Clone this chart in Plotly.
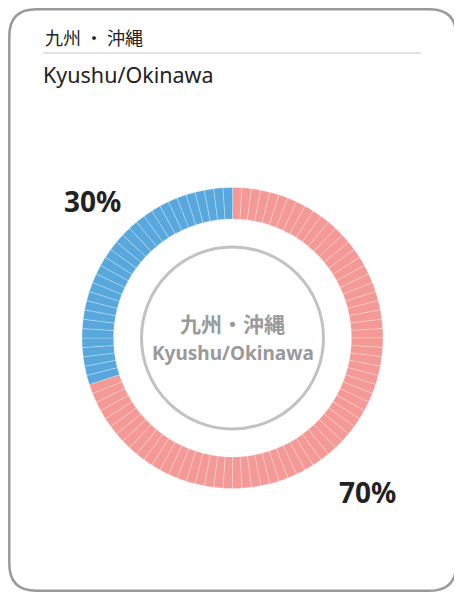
import plotly.graph_objects as go

# ---- data ----
region_jp = "九州・沖縄"
region_en = "Kyushu/Okinawa"
categories = ["blue", "red"]
shares = [30, 70]            # percent (blue runs counter-clockwise from 12 o'clock)
share_labels = ["30%", "70%"]
colors = ["#58a8de", "#f59996"]

W, H = 462, 597
OFF = 8  # page body margin: figure sits 8px from the window corner

# expand shares into 1% unit slices (the ring is drawn as 100 thin segments);
# drawn clockwise from 12 o'clock, so the order is reversed
unit_vals, unit_cols = [], []
for s, c in reversed(list(zip(shares, colors))):
    unit_vals += [1] * s
    unit_cols += [c] * s

cx, cy, R = 232.5, 338, 150.5   # window pixel coordinates

fig = go.Figure()
fig.add_trace(go.Pie(
    values=unit_vals,
    sort=False,
    direction="clockwise",
    rotation=0,
    hole=0.79,
    marker=dict(colors=unit_cols, line=dict(color="rgba(255,255,255,0.38)", width=0.7)),
    textinfo="none",
    hoverinfo="skip",
    showlegend=False,
    domain=dict(x=[(cx - OFF - R) / W, (cx - OFF + R) / W],
                y=[(H - (cy - OFF) - R) / H, (H - (cy - OFF) + R) / H]),
))

fig.update_layout(
    width=W, height=H,
    margin=dict(l=0, r=0, t=0, b=0),
    paper_bgcolor="white", plot_bgcolor="rgba(0,0,0,0)",
    xaxis=dict(range=[OFF, OFF + W], visible=False, fixedrange=True),
    yaxis=dict(range=[OFF + H, OFF], visible=False, fixedrange=True),
    showlegend=False,
)

r = 27
x0, x1, y0, y1 = 9.3, 456.3, 9.3, 590.8
path = (f"M {x0+r},{y0} L {x1-r},{y0} Q {x1},{y0} {x1},{y0+r} L {x1},{y1-r} "
        f"Q {x1},{y1} {x1-r},{y1} L {x0+r},{y1} Q {x0},{y1} {x0},{y1-r} "
        f"L {x0},{y0+r} Q {x0},{y0} {x0+r},{y0} Z")
fig.add_shape(type="path", path=path, xref="x", yref="y",
              line=dict(color="#9a9a9a", width=2.5), layer="above")
fig.add_shape(type="line", x0=43, x1=421, y0=53, y1=53, xref="x", yref="y",
              line=dict(color="#c4c4c4", width=1.2))
rc = 91
fig.add_shape(type="circle", x0=cx - rc, x1=cx + rc, y0=cy - rc, y1=cy + rc,
              xref="x", yref="y", line=dict(color="#c2c2c2", width=3))

cjk = "Noto Sans CJK JP, Noto Sans, sans-serif"
lat = "Noto Sans, Open Sans, sans-serif"

fig.add_annotation(x=43, y=37, xref="x", yref="y", text="九州 ・ 沖縄", showarrow=False,
                   xanchor="left", yanchor="middle", font=dict(family=cjk, size=18, color="#222222"))
fig.add_annotation(x=41, y=74, xref="x", yref="y", text=region_en, showarrow=False,
                   xanchor="left", yanchor="middle", font=dict(family=lat, size=21.5, color="#222222"))

fig.add_annotation(x=cx, y=323, xref="x", yref="y", text=f"<b>{region_jp}</b>", showarrow=False,
                   xanchor="center", yanchor="middle", font=dict(family=cjk, size=21, color="#9a9a9a"))
fig.add_annotation(x=cx, y=353, xref="x", yref="y", text=f"<b>{region_en}</b>", showarrow=False,
                   xanchor="center", yanchor="middle", font=dict(family=lat, size=19, color="#9a9a9a"))

label_pos = [(92.5, 201), (367, 492)]
for (lx, ly), t in zip(label_pos, share_labels):
    fig.add_annotation(x=lx, y=ly, xref="x", yref="y", text=f"<b>{t}</b>", showarrow=False,
                       xanchor="center", yanchor="middle", font=dict(family=lat, size=28, color="#222222"))

fig.write_html("out.html")
